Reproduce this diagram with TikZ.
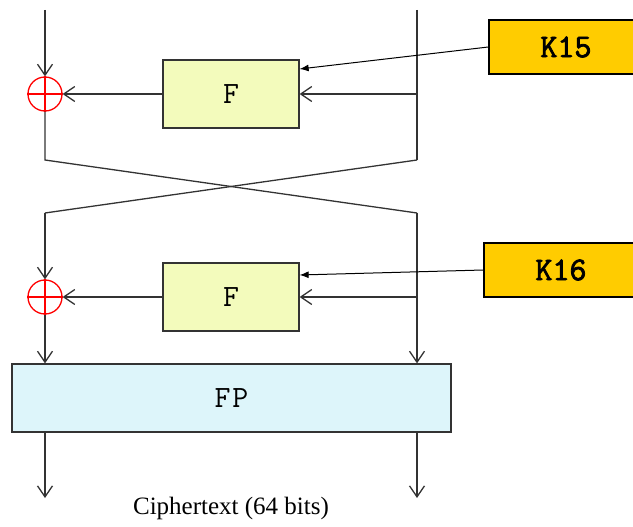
\documentclass[tikz,border=0pt]{standalone}
\usepackage{fontspec}
\setmainfont{Liberation Serif}
\newfontfamily\ttbold[FakeBold=2.5]{Latin Modern Mono}
\usetikzlibrary{arrows.meta}
\definecolor{lineg}{HTML}{333333}
\definecolor{ffill}{HTML}{F3FBBC}
\definecolor{kfill}{HTML}{FFCC00}
\definecolor{fpfill}{HTML}{DDF5FA}
\begin{document}
\begin{tikzpicture}[x=1pt,y=-1pt,
  wire/.style={draw=lineg,line width=1.3pt},
  openarr/.style={wire,-{Straight Barb[length=11pt,width=15pt,line width=1.3pt]}},
  keyarr/.style={draw=black,line width=1pt,-{Latex[length=9pt,width=7pt]}},
  fbox/.style={draw=lineg,line width=1.3pt,fill=ffill,minimum width=136pt,minimum height=68pt,inner sep=0pt,font=\ttfamily\fontsize{31}{31}\selectfont},
  kbox/.style={draw=black,line width=1.3pt,fill=kfill,minimum width=154pt,minimum height=54pt,inner sep=0pt,font=\ttbold\fontsize{33}{33}\selectfont},
  xorc/.style={draw=red,line width=1.3pt,circle,minimum size=34pt,inner sep=0pt},
]
\useasboundingbox (0,0) rectangle (633,527);
\clip (0,0) rectangle (633,527);
% nodes
\node[fbox] (F1) at (231,94) {F};
\node[fbox] (F2) at (231,297) {F};
\node[kbox] (K15) at (566,47) {K15};
\node[kbox] (K16) at (561,270) {K16};
\node[xorc] (X1) at (45,94) {};
\node[xorc] (X2) at (45,297) {};
\draw[red,line width=1.3pt] (X1.north) -- (X1.south) (X1.west) -- (X1.east);
\draw[red,line width=1.3pt] (X2.north) -- (X2.south) (X2.west) -- (X2.east);
\node[draw=lineg,line width=1.3pt,fill=fpfill,minimum width=439pt,minimum height=68pt,inner sep=0pt,font=\ttfamily\fontsize{31}{31}\selectfont] (FP) at (231.5,398) {F\kern2pt P};
\node[font=\fontsize{25}{25}\selectfont] (ct) at (231,508) {Ciphertext (64 bits)};
% coordinates
\coordinate (Ltop) at (45,10);
\coordinate (Rtop) at (417,10);
\coordinate (Rb1) at (417,94);
\coordinate (Lc1) at (45,160);
\coordinate (Rc1) at (417,160);
\coordinate (Lc2) at (45,213);
\coordinate (Rc2) at (417,213);
\coordinate (Rb2) at (417,297);
\coordinate (Lout) at (45,498);
\coordinate (Rout) at (417,498);
% round 15
\draw[openarr] (Ltop) -- (X1.north);
\draw[openarr] (F1.west) -- (X1.east);
\draw[wire] (Rtop) -- (Rc1);
\draw[openarr] (Rb1) -- (F1.east);
\draw[keyarr] (K15.west) -- (F1.east |- 0,69);
% cross
\draw[wire] (X1.south) -- (Lc1) -- (Rc2);
\draw[wire] (Rc1) -- (Lc2);
% round 16
\draw[openarr] (Lc2) -- (X2.north);
\draw[openarr] (Rc2) -- (FP.north -| Rc2);
\draw[openarr] (Rb2) -- (F2.east);
\draw[openarr] (F2.west) -- (X2.east);
\draw[keyarr] (K16.west) -- (F2.east |- 0,275);
\draw[openarr] (X2.south) -- (FP.north -| X2.south);
% output
\draw[openarr] (FP.south -| Lout) -- (Lout);
\draw[openarr] (FP.south -| Rout) -- (Rout);
\end{tikzpicture}
\end{document}
